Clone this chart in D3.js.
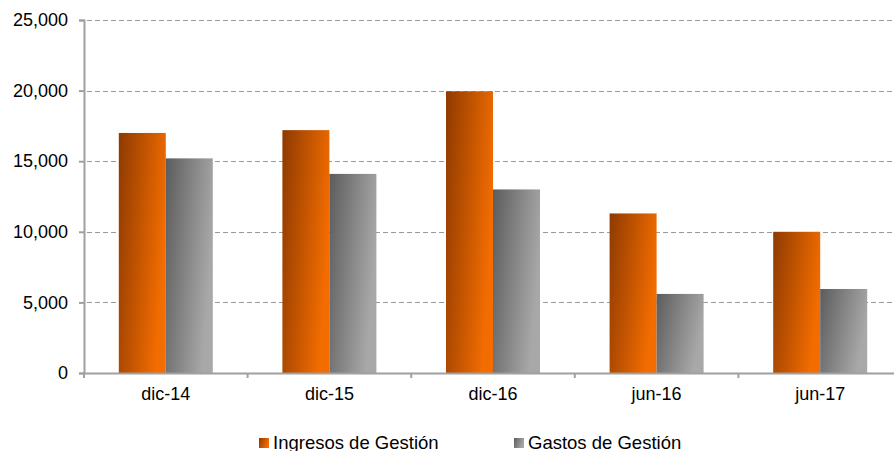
<!DOCTYPE html>
<html>
<head>
<meta charset="utf-8">
<script src="https://cdn.jsdelivr.net/npm/d3@7"></script>
<style>
  html, body { margin: 0; padding: 0; background: #fff; }
  svg { display: block; font-family: "Liberation Sans", Arial, sans-serif; }
</style>
</head>
<body>
<div id="chart"></div>
<script>
// data
var categories = ["dic-14", "dic-15", "dic-16", "jun-16", "jun-17"];
var ingresos = [17000, 17200, 19950, 11300, 10000];
var gastos = [15200, 14100, 13000, 5600, 5950];
var seriesNames = ["Ingresos de Gestión", "Gastos de Gestión"];
var yTicks = [0, 5000, 10000, 15000, 20000, 25000];

var W = 894, H = 451;
var margin = {top: 20, right: -8, bottom: 78, left: 84};
var width = W - margin.left - margin.right;
var height = H - margin.top - margin.bottom;

var svg = d3.select("#chart")
  .append("svg")
    .attr("width", W)
    .attr("height", H);

// gradients
var defs = svg.append("defs");
function addGrad(id, c0, c1) {
  var g = defs.append("linearGradient")
    .attr("id", id)
    .attr("x1", "0").attr("y1", "0")
    .attr("x2", "1").attr("y2", "0.35");
  g.append("stop").attr("offset", "0%").attr("stop-color", c0);
  g.append("stop").attr("offset", "100%").attr("stop-color", c1);
}
addGrad("gradOrange", "#8e3a00", "#f26c00");
addGrad("gradGray", "#5c5c5c", "#a8a8a8");
var fills = ["url(#gradOrange)", "url(#gradGray)"];

var g = svg.append("g")
  .attr("transform", "translate(" + margin.left + "," + margin.top + ")");

var x = d3.scaleBand()
  .domain(categories)
  .range([0, width])
  .paddingInner(0)
  .paddingOuter(0);

var y = d3.scaleLinear()
  .domain([0, 25000])
  .range([height, 0]);

// gridlines
g.append("g")
  .selectAll("line")
  .data(yTicks.filter(function (d) { return d > 0; }))
  .enter()
  .append("line")
    .attr("x1", -5)
    .attr("x2", width)
    .attr("y1", function (d) { return Math.round(y(d)) + 0.5; })
    .attr("y2", function (d) { return Math.round(y(d)) + 0.5; })
    .attr("stroke", "#9a9a9a")
    .attr("stroke-width", 1.2)
    .attr("stroke-dasharray", "5,3");

// bars
var groupW = 94;
var x1 = d3.scaleBand()
  .domain([0, 1])
  .range([0, groupW]);

var groups = g.append("g")
  .selectAll("g")
  .data(categories)
  .enter()
  .append("g")
    .attr("transform", function (d) {
      return "translate(" + (x(d) + x.bandwidth() / 2 - groupW / 2) + ",0)";
    });

groups.selectAll("rect")
  .data(function (d, i) { return [ingresos[i], gastos[i]]; })
  .enter()
  .append("rect")
    .attr("x", function (d, j) { return x1(j); })
    .attr("y", function (d) { return y(d); })
    .attr("width", x1.bandwidth())
    .attr("height", function (d) { return height - y(d); })
    .attr("fill", function (d, j) { return fills[j]; });

// y axis
var yAxis = g.append("g")
  .call(d3.axisLeft(y).tickValues(yTicks).tickFormat(d3.format(",")).tickSize(5).tickPadding(11));
yAxis.select(".domain").attr("stroke", "#a0a0a0").attr("stroke-width", 2);
yAxis.selectAll(".tick line").attr("stroke", "#a0a0a0").attr("stroke-width", 2);
yAxis.selectAll("text").attr("font-size", "18px").attr("fill", "#000")
  .style("font-family", "'Liberation Sans', Arial, sans-serif");

// x axis
var xAxis = g.append("g")
  .attr("transform", "translate(0," + height + ")")
  .call(d3.axisBottom(x).tickSize(0).tickPadding(14));
xAxis.select(".domain").attr("stroke", "#a0a0a0").attr("stroke-width", 2);
xAxis.selectAll("text").attr("font-size", "18px").attr("fill", "#000")
  .style("font-family", "'Liberation Sans', Arial, sans-serif");

// category boundary ticks
g.append("g")
  .selectAll("line")
  .data(categories)
  .enter()
  .append("line")
    .attr("x1", function (d) { return x(d); })
    .attr("x2", function (d) { return x(d); })
    .attr("y1", height)
    .attr("y2", height + 5)
    .attr("stroke", "#a0a0a0")
    .attr("stroke-width", 2);

// legend
var legendX = [259, 514];
var legend = svg.append("g")
  .selectAll("g")
  .data(seriesNames)
  .enter()
  .append("g")
    .attr("transform", function (d, i) { return "translate(" + legendX[i] + ",438)"; });

legend.append("rect")
  .attr("width", 10)
  .attr("height", 10)
  .attr("fill", function (d, i) { return fills[i]; });

legend.append("text")
  .attr("x", 14)
  .attr("y", 11)
  .attr("font-size", "18.5px")
  .attr("fill", "#000")
  .text(function (d) { return d; });
</script>
</body>
</html>
